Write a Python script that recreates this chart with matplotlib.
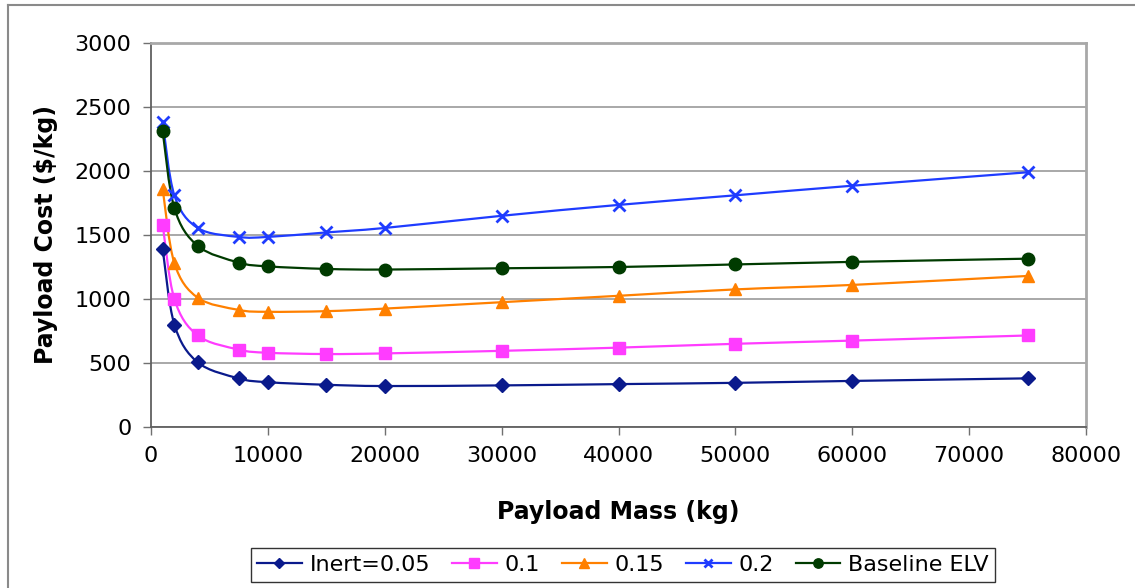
import numpy as np
import matplotlib
matplotlib.use("Agg")
import matplotlib.pyplot as plt
from matplotlib.path import Path
from matplotlib.patches import PathPatch
from matplotlib.lines import Line2D

# Payload mass (kg) sample points
mass = [1000, 2000, 4000, 7500, 10000, 15000, 20000, 30000, 40000, 50000, 60000, 75000]

# Payload cost ($/kg) per configuration
inert_005 = [1390, 800, 505, 380, 350, 330, 320, 325, 335, 345, 360, 380]
inert_010 = [1580, 1000, 715, 605, 580, 570, 575, 595, 620, 650, 675, 715]
inert_015 = [1860, 1280, 1010, 915, 900, 905, 925, 975, 1025, 1075, 1110, 1180]
inert_020 = [2380, 1810, 1555, 1485, 1485, 1520, 1555, 1650, 1735, 1810, 1885, 1990]
baseline_elv = [2310, 1710, 1415, 1285, 1255, 1235, 1230, 1240, 1250, 1270, 1290, 1315]

labels = ["Inert=0.05", "0.1", "0.15", "0.2", "Baseline ELV"]
series = [inert_005, inert_010, inert_015, inert_020, baseline_elv]
colors = ["#0a1a8c", "#ff3cff", "#ff8000", "#1f3cff", "#003b00"]
markers = ["D", "s", "^", "x", "o"]
msizes = [7, 9, 9, 8, 9]


def smooth_path(x, y):
    """Excel-like smoothed line: Catmull-Rom segments as cubic Beziers."""
    p = np.column_stack([x, y]).astype(float)
    n = len(p)
    verts = [p[0]]
    codes = [Path.MOVETO]
    for i in range(n - 1):
        p0 = p[i - 1] if i > 0 else p[i]
        p1, p2 = p[i], p[i + 1]
        p3 = p[i + 2] if i + 2 < n else p[i + 1]
        c1 = p1 + (p2 - p0) / 6.0
        c2 = p2 - (p3 - p1) / 6.0
        verts += [c1, c2, p2]
        codes += [Path.CURVE4] * 3
    return Path(verts, codes)


fig = plt.figure(figsize=(11.35, 5.88), dpi=100)
ax = fig.add_axes([151 / 1135, 1 - 427 / 588, (1086 - 151) / 1135, (427 - 43) / 588])

for ys, c, m, ms, lab in zip(series, colors, markers, msizes, labels):
    ax.add_patch(PathPatch(smooth_path(mass, ys), fill=False, edgecolor=c,
                           lw=1.6, zorder=3))
    ax.plot(mass, ys, ls="none", marker=m, ms=ms, color=c,
            mew=2 if m == "x" else 1, zorder=4)

ax.set_xlim(0, 80000)
ax.set_ylim(0, 3000)
ax.set_xticks(np.arange(0, 80001, 10000))
ax.set_yticks(np.arange(0, 3001, 500))
ax.tick_params(labelsize=16, direction="out", length=6, width=1,
               color="#707070", pad=8)
ax.yaxis.grid(True, color="#9a9a9a", lw=1.2)
ax.set_axisbelow(True)

for side in ["top", "right"]:
    ax.spines[side].set_color("#a8a8a8")
    ax.spines[side].set_linewidth(2)
for side in ["left", "bottom"]:
    ax.spines[side].set_color("#606060")
    ax.spines[side].set_linewidth(1.3)

ax.set_xlabel("Payload Mass (kg)", fontsize=17, fontweight="bold", labelpad=24)
ax.set_ylabel("Payload Cost ($/kg)", fontsize=17, fontweight="bold", labelpad=12)

handles = [Line2D([], [], color=c, marker=m, ms=ms * 0.75, lw=1.6,
                  mew=2 if m == "x" else 1)
           for c, m, ms in zip(colors, markers, msizes)]
leg = fig.legend(handles, labels, loc="center", ncol=5,
                 bbox_to_anchor=(623 / 1135, 1 - 565 / 588), fontsize=16,
                 frameon=True, fancybox=False, handlelength=2.0,
                 handletextpad=0.35, columnspacing=1.0, borderpad=0.3)
leg.get_frame().set_edgecolor("#000000")
leg.get_frame().set_linewidth(1)

# outer chart border
fig.add_artist(Line2D([8 / 1135, 8 / 1135], [0, 1 - 5 / 588],
                      transform=fig.transFigure, color="#8a8a8a", lw=1.5))
fig.add_artist(Line2D([8 / 1135, 1], [1 - 5 / 588, 1 - 5 / 588],
                      transform=fig.transFigure, color="#8a8a8a", lw=1.5))

fig.savefig("out.png", dpi=100)
